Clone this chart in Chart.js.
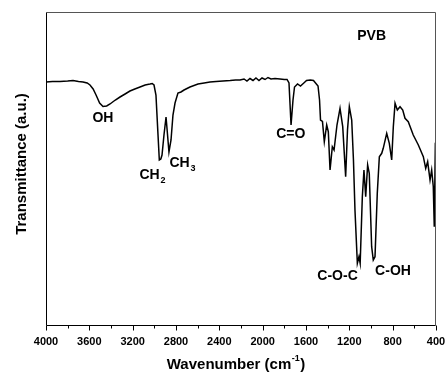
<!DOCTYPE html>
<html><head><meta charset="utf-8">
<script src="https://cdn.jsdelivr.net/npm/chart.js@4"></script>
<style>html,body{margin:0;padding:0;background:#fff}#c{display:block}</style>
</head><body>
<canvas id="c" width="446" height="375"></canvas>
<script>
// Wavenumber (cm-1) and transmittance (a.u.)
const wavenumber = [4000,3940,3871,3800,3751,3700,3658,3620,3594,3565,3538,3505,3474,3440,3409,3360,3317,3270,3225,3180,3132,3085,3040,3020,3003,2985,2966,2954,2940,2929,2911,2892,2878,2865,2846,2828,2809,2782,2754,2726,2671,2597,2540,2486,2430,2366,2300,2250,2209,2172,2145,2117,2089,2062,2034,2006,1978,1951,1923,1886,1840,1800,1775,1757,1738,1720,1706,1678,1651,1620,1595,1560,1531,1489,1475,1466,1448,1431,1409,1394,1378,1357,1341,1314,1286,1261,1234,1217,1200,1178,1162,1148,1126,1111,1100,1080,1065,1049,1031,1016,994,979,963,942,923,901,887,855,831,809,794,778,757,732,707,686,656,610,563,517,495,477,455,440,425,416,406,400];
const transmittance = [243,243.5,243.5,244,244.5,243.5,243,242,240,236,230,222,218.5,219,221,225,228,231,234,236,238,240,241,241.5,240,230,190,165,166,170,190,208,190,173,185,210,222,232,233,235,238,241,242,243,243.5,244,244.5,245,245,246,244,246.5,244.5,247,244.5,247,245.5,247.5,246,246.5,246,245.5,245.5,242,200,225,238,241,239,242,244.5,245,244.5,239,225,205,203.5,183.3,200,193.3,155,178.3,175,200,216.7,198.3,148.3,195,218.3,205,165,115,61.7,68.3,61.7,128.3,155,128.3,160,151.7,78.3,65,68.3,131.7,168.3,171.7,176.7,191.7,181.7,165,198.3,221.7,215,218.3,215,206.7,203.3,190,180,168.3,156.7,163.3,145,155,138.3,98.3,181.7,182];
const xTickLabels = [4000,3600,3200,2800,2400,2000,1600,1200,800,400];
const bandLabels = [
  {text:'PVB', sub:'', wn:994, t:289},
  {text:'OH', sub:'', wn:3474, t:207},
  {text:'CH', sub:'2', wn:3017, t:150},
  {text:'CH', sub:'3', wn:2740, t:162},
  {text:'C=O', sub:'', wn:1741, t:191},
  {text:'C-O-C', sub:'', wn:1309, t:49},
  {text:'C-OH', sub:'', wn:797, t:54.3}
];
const FONT = '"Liberation Sans", Arial, sans-serif';

const deco = {
  id:'deco',
  afterDraw(chart){
    const ctx = chart.ctx, a = chart.chartArea, xs = chart.scales.x, ys = chart.scales.y;
    ctx.save();
    // frame
    ctx.lineWidth = 1;
    ctx.strokeStyle = '#555';
    ctx.beginPath();
    ctx.moveTo(Math.round(a.left)+0.5, Math.round(a.top)+0.5);
    ctx.lineTo(Math.round(a.right)-0.5, Math.round(a.top)+0.5);
    ctx.lineTo(Math.round(a.right)-0.5, Math.round(a.bottom)+0.5);
    ctx.stroke();
    ctx.strokeStyle = '#000';
    ctx.beginPath();
    ctx.moveTo(Math.round(a.left)+0.5, Math.round(a.top)+0.5);
    ctx.lineTo(Math.round(a.left)+0.5, Math.round(a.bottom)+0.5);
    ctx.lineTo(Math.round(a.right)-0.5, Math.round(a.bottom)+0.5);
    ctx.stroke();
    // outward ticks
    for (let v = 400; v <= 4000; v += 200) {
      const px = Math.round(xs.getPixelForValue(v)) + 0.5;
      const len = (v % 400 === 0) ? 5 : 3;
      ctx.beginPath();
      ctx.moveTo(px, Math.round(a.bottom)+0.5);
      ctx.lineTo(px, Math.round(a.bottom)+0.5+len);
      ctx.stroke();
    }
    // band labels
    ctx.fillStyle = '#000';
    ctx.textBaseline = 'middle';
    ctx.textAlign = 'left';
    bandLabels.forEach(l => {
      ctx.font = 'bold 14px ' + FONT;
      const w1 = ctx.measureText(l.text).width;
      ctx.font = 'bold 9px ' + FONT;
      const w2 = l.sub ? ctx.measureText(l.sub).width + 1 : 0;
      const cx = xs.getPixelForValue(l.wn), cy = ys.getPixelForValue(l.t);
      const x0 = cx - (w1 + w2) / 2;
      ctx.font = 'bold 14px ' + FONT;
      ctx.fillText(l.text, x0, cy);
      if (l.sub) {
        ctx.font = 'bold 9px ' + FONT;
        ctx.fillText(l.sub, x0 + w1 + 1, cy + 6);
      }
    });
    // x axis title
    const p1 = 'Wavenumber (cm', sup = '-1', p2 = ')';
    ctx.font = 'bold 15px ' + FONT;
    const wa = ctx.measureText(p1).width, wc = ctx.measureText(p2).width;
    ctx.font = 'bold 9px ' + FONT;
    const wb = ctx.measureText(sup).width + 1;
    let tx = 236 - (wa + wb + wc) / 2;
    const ty = 365;
    ctx.font = 'bold 15px ' + FONT;
    ctx.fillText(p1, tx, ty);
    ctx.font = 'bold 9px ' + FONT;
    ctx.fillText(sup, tx + wa + 0.5, ty - 6);
    ctx.font = 'bold 15px ' + FONT;
    ctx.fillText(p2, tx + wa + wb, ty);
    // y axis title
    ctx.translate(22, 164);
    ctx.rotate(-Math.PI / 2);
    ctx.textAlign = 'center';
    ctx.font = 'bold 15px ' + FONT;
    ctx.fillText('Transmittance (a.u.)', 0, 0);
    ctx.restore();
  }
};

new Chart(document.getElementById('c'), {
  type: 'line',
  data: {
    datasets: [{
      data: wavenumber.map((w, i) => ({x: w, y: transmittance[i]})),
      borderColor: '#000',
      borderWidth: 1.5,
      pointRadius: 0,
      tension: 0,
      fill: false
    }]
  },
  options: {
    responsive: false,
    devicePixelRatio: 1,
    animation: false,
    layout: {padding: {top: 12, right: 10, left: 0, bottom: 0}},
    plugins: {legend: {display: false}, tooltip: {enabled: false}},
    scales: {
      x: {
        type: 'linear', reverse: true, min: 400, max: 4000,
        grid: {display: false, drawTicks: false},
        border: {display: false},
        ticks: {
          stepSize: 200, autoSkip: false, maxRotation: 0, minRotation: 0,
          color: '#000', padding: 10,
          font: {family: FONT, size: 11, weight: 'bold'},
          callback: v => xTickLabels.includes(v) ? String(v) : ''
        },
        afterFit: s => { s.height = 50; s.paddingLeft = 0; s.paddingRight = 0; }
      },
      y: {
        min: 0, max: 313,
        grid: {display: false, drawTicks: false},
        border: {display: false},
        ticks: {display: false},
        afterFit: s => { s.width = 46; s.paddingTop = 0; s.paddingBottom = 0; }
      }
    }
  },
  plugins: [deco]
});
</script>
</body></html>
